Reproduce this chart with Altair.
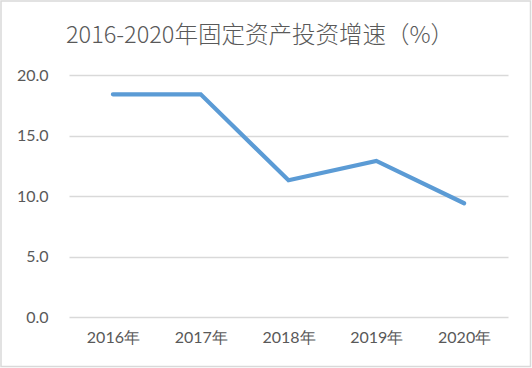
import altair as alt
import pandas as pd

years = ["2016年", "2017年", "2018年", "2019年", "2020年"]
growth = [18.4, 18.4, 11.3, 12.9, 9.4]
title_text = ["2016-2020年固定资产投资增速（%）"]

df = pd.DataFrame({"year": years, "growth": growth})
tdf = pd.DataFrame({"t": title_text})

W, H = 439, 242
PL, PT, PR, PB = 69, 75, 24, 51

base = alt.Chart(df)

line = base.mark_line(color="#5B9BD5", strokeWidth=4.2, strokeCap="round", strokeJoin="miter").encode(
    x=alt.X("year:N", sort=years, title=None,
            scale=alt.Scale(type="point", padding=0.5),
            axis=alt.Axis(labelAngle=0, ticks=False, domain=False, grid=False,
                          labelFont="Lato", labelFontSize=16, labelColor="#595959",
                          labelPadding=12)),
    y=alt.Y("growth:Q", title=None,
            scale=alt.Scale(domain=[0, 20], nice=False),
            axis=alt.Axis(values=[0, 5, 10, 15, 20], format=".1f", ticks=False, domain=False,
                          grid=True, gridColor="#d9d9d9", gridWidth=1.3,
                          labelFont="Lato", labelFontSize=16, labelColor="#595959",
                          labelPadding=21)),
)

title = alt.Chart(tdf).mark_text(
    font="Noto Sans CJK SC", fontSize=23.5, fontWeight=300, color="#595959",
    align="center", baseline="alphabetic", clip=False
).encode(text="t:N", x=alt.value(191), y=alt.value(-32))

border = alt.Chart(tdf).mark_rect(fill=None, stroke="#d9d9d9", strokeWidth=1.5, clip=False).encode(
    x=alt.value(-PL + 1), x2=alt.value(W + PR - 1.5),
    y=alt.value(-PT + 1), y2=alt.value(H + PB - 1.5)
)

chart = alt.layer(border, line, title).properties(
    width=W, height=H,
    autosize=alt.AutoSizeParams(type="none"),
    padding={"left": PL, "top": PT, "right": PR, "bottom": PB},
    background="white",
).configure_view(stroke=None)

chart.save("out.html", embed_options={"renderer": "svg", "actions": False})
